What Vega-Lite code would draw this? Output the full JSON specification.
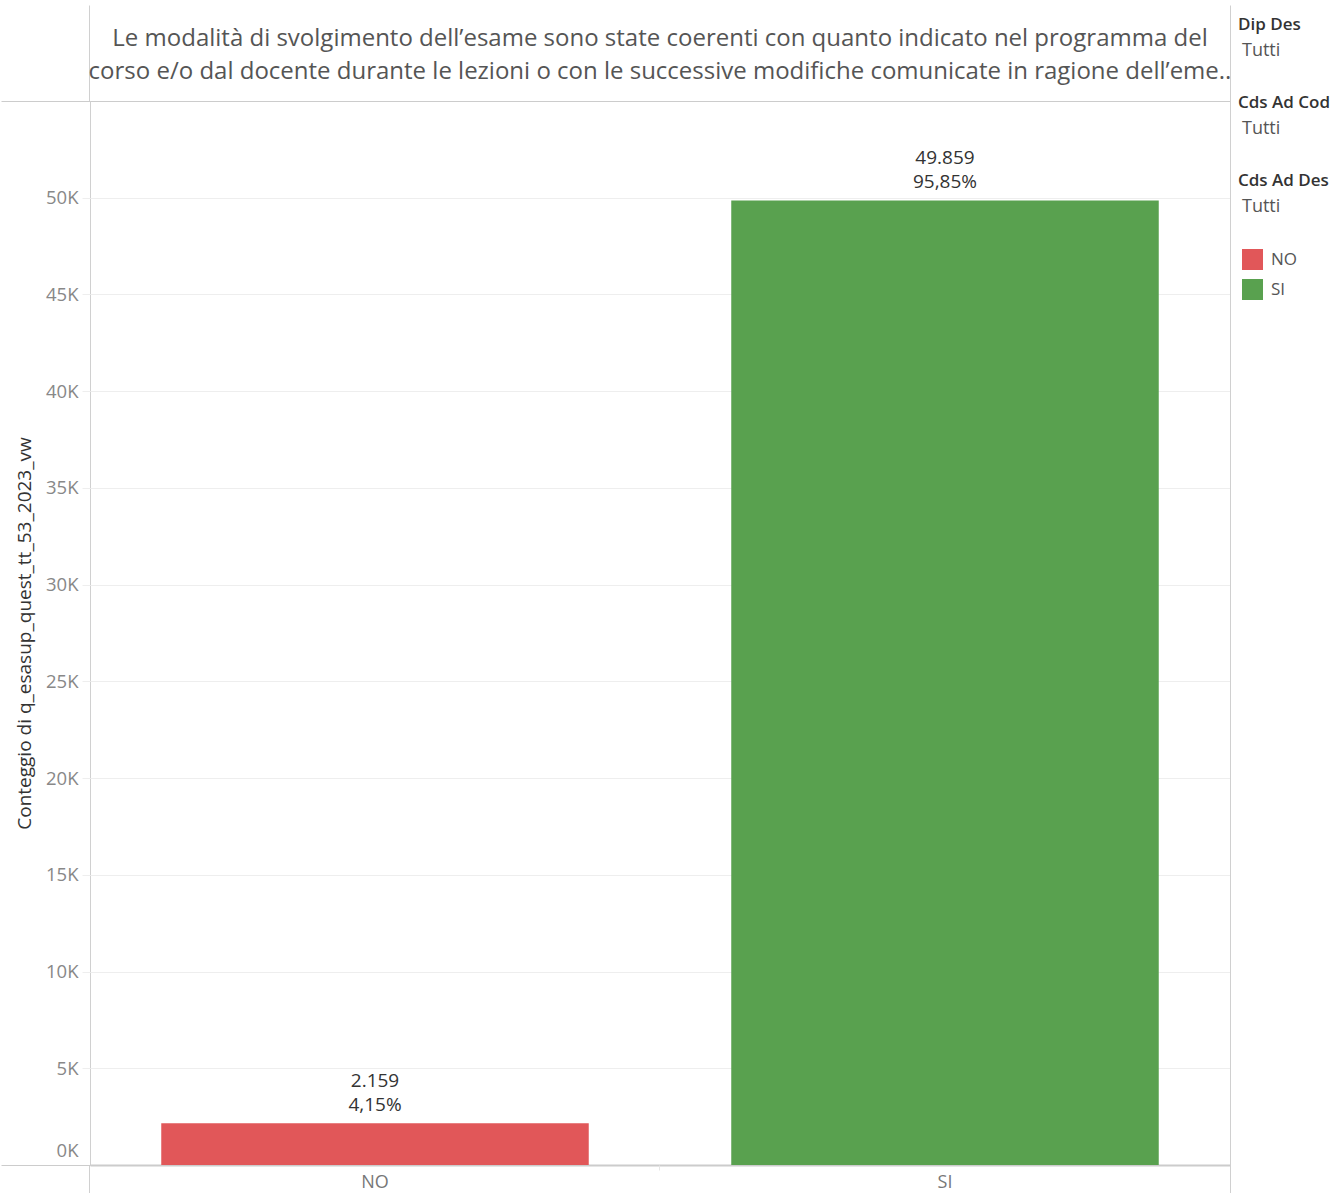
{
  "$schema": "https://vega.github.io/schema/vega-lite/v6.json",
  "background": "white",
  "padding": {"left": 0, "top": 4, "right": 0, "bottom": 0},
  "bounds": "flush",
  "spacing": 8,
  "config": {"font": "Open Sans", "view": {"stroke": null}},
  "hconcat": [
    {
      "width": 1140,
      "height": 1064,
      "title": {
        "text": [
          "Le modalità di svolgimento dell’esame sono state coerenti con quanto indicato nel programma del",
          "corso e/o dal docente durante le lezioni o con le successive modifiche comunicate in ragione dell’eme.."
        ],
        "fontSize": 24,
        "fontWeight": "normal",
        "color": "#555555",
        "lineHeight": 33,
        "offset": -79,
        "anchor": "middle",
        "frame": "group"
      },
      "view": {"stroke": "#d0d0d0"},
      "data": {
        "values": [
          {"risposta": "NO", "conteggio": 2159, "etichetta": ["2.159", "4,15%"]},
          {"risposta": "SI", "conteggio": 49859, "etichetta": ["49.859", "95,85%"]}
        ]
      },
      "encoding": {
        "y": {
          "field": "conteggio",
          "type": "quantitative",
          "scale": {"domain": [0, 55000], "nice": false},
          "axis": {
            "values": [0, 5000, 10000, 15000, 20000, 25000, 30000, 35000, 40000, 45000, 50000, 55000],
            "labelExpr": "datum.value >= 55000 ? '' : datum.value / 1000 + 'K'",
            "title": "Conteggio di q_esasup_quest_tt_53_2023_vw",
            "titleColor": "#333333",
            "titleFontSize": 19,
            "titleFontWeight": "normal",
            "titleX": -56,
            "labelColor": "#888888",
            "labelFontSize": 18.5,
            "labelPadding": {"condition": {"test": "datum.value == 0 || datum.value == 55000", "value": -77}, "value": 4},
            "tickSize": {"condition": {"test": "datum.value == 0 || datum.value == 55000", "value": 89}, "value": 8},
            "tickColor": {"condition": {"test": "datum.value == 0 || datum.value == 55000", "value": "#cccccc"}, "value": "#eeeeee"},
            "gridColor": {"condition": {"test": "datum.value == 0 || datum.value == 55000", "value": "#cccccc"}, "value": "#eeeeee"},
            "gridWidth": {"condition": {"test": "datum.value == 0", "value": 2}, "value": 1},
            "domain": false,
            "labelFlush": true,
            "labelFlushOffset": -5
          }
        }
      },
      "layer": [
        {
          "mark": {"type": "bar"},
          "encoding": {
            "x": {
              "field": "risposta",
              "type": "nominal",
              "sort": ["NO", "SI"],
              "scale": {"paddingInner": 0.25, "paddingOuter": 0.125},
              "axis": {
                "orient": "bottom",
                "title": null,
                "labelAngle": 0,
                "labelColor": "#777777",
                "labelFontSize": 18,
                "domain": false,
                "bandPosition": -0.16667,
                "tickSize": {"condition": {"test": "datum.value == 'NO'", "value": 28}, "value": 5},
                "tickColor": {"condition": {"test": "datum.value == 'NO'", "value": "#d0d0d0"}, "value": "#e6e6e6"},
                "labelPadding": {"condition": {"test": "datum.value == 'NO'", "value": -20}, "value": 3}
              }
            },
            "color": {
              "field": "risposta",
              "type": "nominal",
              "scale": {"domain": ["NO", "SI"], "range": ["#e15759", "#59a14f"]},
              "legend": {
                "orient": "none",
                "legendX": 1152,
                "legendY": 148,
                "title": null,
                "padding": 0,
                "symbolType": "square",
                "symbolSize": 441,
                "symbolStrokeWidth": 0,
                "labelFontSize": 17,
                "labelColor": "#555555",
                "labelOffset": 8,
                "rowPadding": 9
              }
            }
          }
        },
        {
          "mark": {"type": "text", "baseline": "bottom", "dy": -32, "fontSize": 19, "lineHeight": 24, "color": "#333333"},
          "encoding": {
            "x": {
              "field": "risposta",
              "type": "nominal",
              "sort": ["NO", "SI"],
              "axis": {
                "orient": "top",
                "title": null,
                "labels": false,
                "domain": false,
                "grid": false,
                "bandPosition": -0.16667,
                "tickSize": {"condition": {"test": "datum.value == 'NO'", "value": 96}, "value": 0},
                "tickColor": "#d0d0d0"
              }
            },
            "text": {"field": "etichetta"}
          }
        }
      ],
      "resolve": {"axis": {"x": "independent"}}
    },
    {
      "width": 95,
      "height": 100,
      "view": {"stroke": null},
      "data": {
        "values": [
          {"testo": "Dip Des", "pos": 0, "tipo": "campo"},
          {"testo": "Tutti", "pos": 1, "tipo": "valore"},
          {"testo": "Cds Ad Cod", "pos": 3, "tipo": "campo"},
          {"testo": "Tutti", "pos": 4, "tipo": "valore"},
          {"testo": "Cds Ad Des", "pos": 6, "tipo": "campo"},
          {"testo": "Tutti", "pos": 7, "tipo": "valore"}
        ]
      },
      "encoding": {
        "x": {"datum": 0, "type": "quantitative", "scale": {"domain": [0, 1]}, "axis": null},
        "y": {
          "field": "pos",
          "type": "quantitative",
          "scale": {"domain": [-0.7692, 44.923], "range": [-96, 1092], "nice": false, "zero": false},
          "axis": {
            "orient": "left",
            "offset": 8,
            "title": null,
            "labels": false,
            "ticks": false,
            "grid": false,
            "domain": true,
            "domainColor": "#d0d0d0"
          }
        },
        "text": {"field": "testo"}
      },
      "layer": [
        {
          "transform": [{"filter": "datum.tipo == 'campo'"}],
          "mark": {"type": "text", "align": "left", "baseline": "middle", "fontSize": 17, "fontWeight": 600, "color": "#333333"}
        },
        {
          "transform": [{"filter": "datum.tipo == 'valore'"}],
          "mark": {"type": "text", "align": "left", "baseline": "middle", "dx": 4, "fontSize": 18, "color": "#555555"}
        }
      ]
    }
  ]
}
